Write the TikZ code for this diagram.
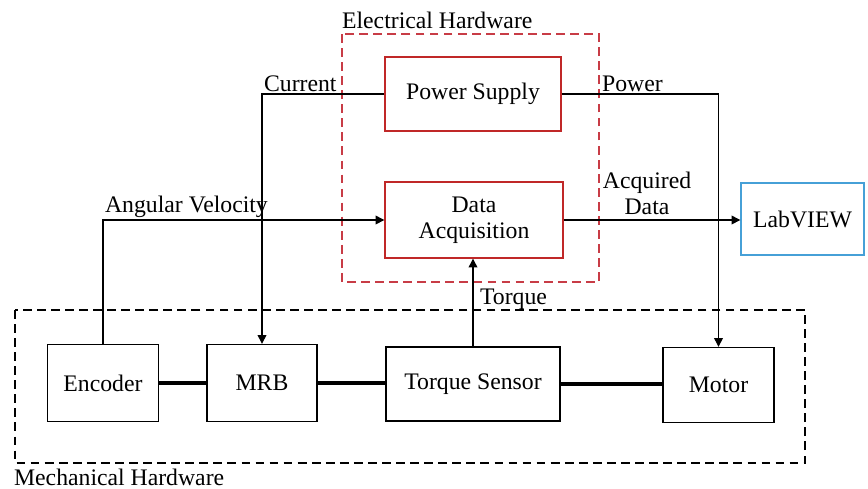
\documentclass[tikz,border=0pt]{standalone}
\usepackage{fontspec}
\setmainfont{Liberation Serif}
\usetikzlibrary{arrows.meta,positioning}

\definecolor{boxred}{RGB}{192,40,40}
\definecolor{framered}{RGB}{200,60,70}
\definecolor{labblue}{RGB}{70,160,215}

\tikzset{
  blk/.style={rectangle, draw, line width=0.8pt, align=center},
  redblk/.style={blk, draw=boxred},
  blublk/.style={blk, draw=labblue},
  frame/.style={dashed, line width=0.7pt, dash pattern=on 5pt off 3pt},
  lbl/.style={inner sep=1pt},
  arr/.style={line width=0.7pt, -{Triangle[length=5pt,width=5pt]}},
  shaft/.style={line width=2pt}
}

\begin{document}
\begin{tikzpicture}[x=0.02cm, y=-0.02cm, font=\fontsize{13.5}{15}\selectfont]
      \useasboundingbox (0,0) rectangle (868,488);

      % Frames
      \draw[frame, draw=framered] (342,34) rectangle (599,282);
      \draw[frame] (15,310) rectangle (805,463);
      \node[lbl, anchor=west] (elechw) at (340,20) {Electrical Hardware};
      \node[lbl, anchor=west] (mechhw) at (12,477) {Mechanical Hardware};

      % Nodes
      \node (ps) at (473,94) [redblk, minimum width=3.52cm, minimum height=1.48cm] {Power Supply};
      \node (daq) at (474,220) [redblk, minimum width=3.56cm, minimum height=1.52cm] {Data\\Acquisition};
      \node (lab) at (802.5,219) [blublk, minimum width=2.46cm, minimum height=1.44cm] {LabVIEW};

      \node (enc) at (103,383) [blk, minimum width=2.22cm, minimum height=1.54cm] {Encoder};
      \node (mrb) at (262,383) [blk, minimum width=2.2cm, minimum height=1.54cm] {MRB};
      \node (ts) at (473,384) [blk, minimum width=3.48cm, minimum height=1.48cm] {Torque Sensor};
      \node (mot) at (718.5,385) [blk, minimum width=2.22cm, minimum height=1.5cm] {Motor};

      % Edges
      \draw[arr] (ps.west) -| (mrb.north);
      \draw[arr] (ps.east) -| (mot.north);
      \draw[arr] (enc.north) |- (daq.west);
      \draw[arr] (daq.east) -- (daq.east -| lab.west);
      \draw[arr] (ts.north) -- (daq.south -| ts.north);

      \draw[shaft] (enc.east |- 0,383) -- (mrb.west |- 0,383);
      \draw[shaft] (mrb.east |- 0,383) -- (ts.west |- 0,383);
      \draw[shaft] (ts.east |- 0,384) -- (mot.west |- 0,384);

      % Labels
      \node[lbl, anchor=south west] (curlbl) at (ps.west -| mrb.north) {Current};
      \node[lbl, anchor=south west] (pwrlbl) at (600,94) {Power};
      \node[lbl, anchor=south west] (anglbl) at (enc.north |- daq.west) {Angular Velocity};
      \node[lbl, anchor=south, align=center] (acqlbl) at (647,217) {Acquired\\Data};
      \node[lbl, anchor=west] (trqlbl) at (478,299) {Torque};
    \end{tikzpicture}
\end{document}
